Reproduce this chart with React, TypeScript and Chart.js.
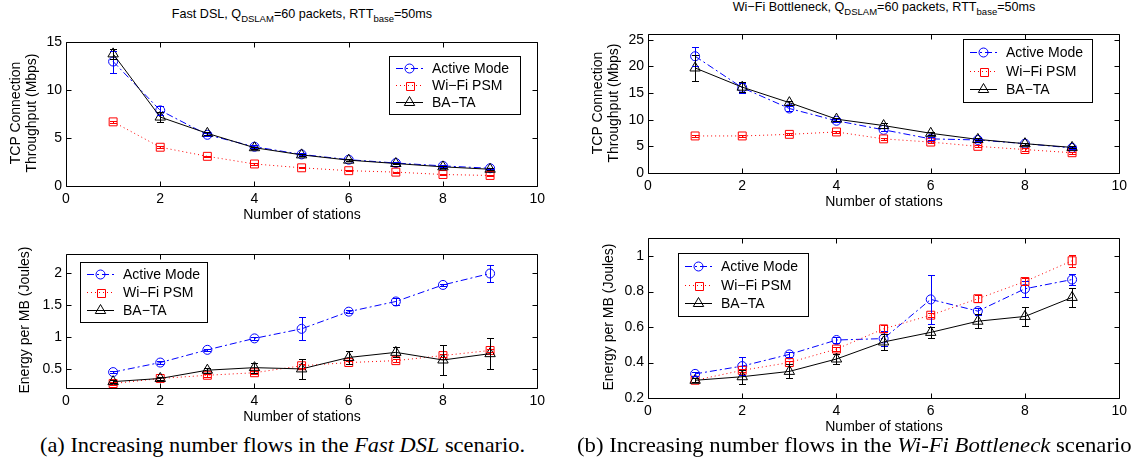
import React, { useEffect, useLayoutEffect, useRef, useState } from "react";
import { Chart, registerables } from "chart.js";

Chart.register(...registerables);

const SANS = '"Liberation Sans", Arial, Helvetica, sans-serif';
const SERIF = '"Liberation Serif", "Times New Roman", serif';

// ---------------- data ----------------
const stations = [1, 2, 3, 4, 5, 6, 7, 8, 9];
const seriesLabels = ["Active Mode", "Wi−Fi PSM", "BA−TA"];
const xTickValues = [0, 2, 4, 6, 8, 10];

// (a) Fast DSL – TCP connection throughput (Mbps)
const dslThrActive = [13.0, 7.9, 5.35, 4.1, 3.3, 2.75, 2.4, 2.1, 1.85];
const dslThrActiveErr = [1.15, 0.5, 0.15, 0.15, 0.1, 0.1, 0.1, 0.08, 0.08];
const dslThrPsm = [6.7, 4.05, 3.1, 2.3, 1.9, 1.6, 1.45, 1.2, 1.1];
const dslThrPsmErr = [0.1, 0.08, 0.08, 0.06, 0.05, 0.05, 0.05, 0.05, 0.05];
const dslThrBata = [13.8, 7.2, 5.5, 4.0, 3.25, 2.7, 2.35, 2.0, 1.75];
const dslThrBataErr = [0.5, 0.5, 0.15, 0.1, 0.1, 0.1, 0.08, 0.08, 0.08];

// (a) Fast DSL – energy per MB (Joules)
const dslEngActive = [0.45, 0.6, 0.8, 0.98, 1.13, 1.4, 1.56, 1.82, 2.0];
const dslEngActiveErr = [0.02, 0.02, 0.02, 0.02, 0.18, 0.02, 0.06, 0.02, 0.13];
const dslEngPsm = [0.27, 0.35, 0.4, 0.44, 0.55, 0.6, 0.63, 0.71, 0.79];
const dslEngPsmErr = [0.02, 0.02, 0.02, 0.02, 0.03, 0.02, 0.02, 0.03, 0.03];
const dslEngBata = [0.3, 0.35, 0.48, 0.52, 0.5, 0.68, 0.76, 0.64, 0.74];
const dslEngBataErr = [0.02, 0.03, 0.04, 0.08, 0.16, 0.1, 0.08, 0.23, 0.24];

// (b) Wi-Fi Bottleneck – TCP connection throughput (Mbps)
const wifiThrActive = [21.9, 16.0, 12.1, 9.8, 8.1, 6.4, 6.2, 5.5, 4.7];
const wifiThrActiveErr = [1.8, 0.9, 0.4, 0.3, 0.3, 0.3, 0.2, 0.2, 0.2];
const wifiThrPsm = [6.95, 6.95, 7.25, 7.7, 6.4, 5.8, 5.0, 4.4, 3.8];
const wifiThrPsmErr = [0.2, 0.2, 0.2, 0.2, 0.2, 0.2, 0.2, 0.2, 0.2];
const wifiThrBata = [19.7, 16.1, 13.2, 10.1, 8.9, 7.45, 6.3, 5.5, 4.8];
const wifiThrBataErr = [2.4, 0.9, 0.4, 0.3, 0.4, 0.3, 0.2, 0.2, 0.2];

// (b) Wi-Fi Bottleneck – energy per MB (Joules)
const wifiEngActive = [0.336, 0.38, 0.446, 0.527, 0.535, 0.756, 0.69, 0.816, 0.868];
const wifiEngActiveErr = [0.01, 0.05, 0.015, 0.015, 0.04, 0.14, 0.02, 0.045, 0.03];
const wifiEngPsm = [0.3, 0.356, 0.4, 0.476, 0.59, 0.667, 0.76, 0.857, 0.974];
const wifiEngPsmErr = [0.01, 0.01, 0.01, 0.01, 0.02, 0.01, 0.02, 0.02, 0.035];
const wifiEngBata = [0.3, 0.32, 0.35, 0.42, 0.516, 0.57, 0.633, 0.66, 0.767];
const wifiEngBataErr = [0.01, 0.04, 0.04, 0.03, 0.045, 0.03, 0.04, 0.055, 0.055];

// ---------------- styles ----------------
const seriesStyles = [
  { color: "#0000ff", dash: [7, 3, 2, 3], marker: "circle", radius: 4.5, order: 3 },
  { color: "#ff0000", dash: [1, 3], marker: "rect", radius: 5.6, order: 2 },
  { color: "#000000", dash: [], marker: "triangle", radius: 6, order: 1 },
];

const FS = 14;
const PADL = 60;
const PADR = 12;
const PADT = 10;
const PADB = 30;
const CAP = 3.5;

type Box = { l: number; t: number; r: number; b: number };
type Panel = {
  key: string;
  plot: Box;
  legend: Box;
  yMin: number;
  yMax: number;
  yStep: number;
  values: number[][];
  errors: number[][];
  yLabel: string[];
  yLabelX: number[];
};

const panels: Panel[] = [
  {
    key: "dslThr",
    plot: { l: 66, t: 40, r: 538, b: 186 },
    legend: { l: 389, t: 56, r: 520, b: 114 },
    yMin: 0, yMax: 15, yStep: 5,
    values: [dslThrActive, dslThrPsm, dslThrBata],
    errors: [dslThrActiveErr, dslThrPsmErr, dslThrBataErr],
    yLabel: ["TCP Connection", "Throughput (Mbps)"],
    yLabelX: [15, 31],
  },
  {
    key: "wifiThr",
    plot: { l: 648, t: 32, r: 1120, b: 173 },
    legend: { l: 963, t: 39, r: 1092, b: 102 },
    yMin: 0, yMax: 26, yStep: 5,
    values: [wifiThrActive, wifiThrPsm, wifiThrBata],
    errors: [wifiThrActiveErr, wifiThrPsmErr, wifiThrBataErr],
    yLabel: ["TCP Connection", "Throughput (Mbps)"],
    yLabelX: [597, 613],
  },
  {
    key: "dslEng",
    plot: { l: 66, t: 252, r: 538, b: 388 },
    legend: { l: 80, t: 262, r: 207, b: 322 },
    yMin: 0.2, yMax: 2.3, yStep: 0.5,
    values: [dslEngActive, dslEngPsm, dslEngBata],
    errors: [dslEngActiveErr, dslEngPsmErr, dslEngBataErr],
    yLabel: ["Energy per MB (Joules)"],
    yLabelX: [24],
  },
  {
    key: "wifiEng",
    plot: { l: 648, t: 236, r: 1120, b: 398 },
    legend: { l: 678, t: 253, r: 808, b: 316 },
    yMin: 0.2, yMax: 1.1, yStep: 0.2,
    values: [wifiEngActive, wifiEngPsm, wifiEngBata],
    errors: [wifiEngActiveErr, wifiEngPsmErr, wifiEngBataErr],
    yLabel: ["Energy per MB (Joules)"],
    yLabelX: [608],
  },
];

// ---------------- drawing helpers ----------------
function drawMarker(ctx: CanvasRenderingContext2D, kind: string, x: number, y: number, r: number, color: string) {
  ctx.save();
  ctx.setLineDash([]);
  ctx.strokeStyle = color;
  ctx.lineWidth = 1;
  ctx.beginPath();
  if (kind === "circle") {
    ctx.arc(x, y, r, 0, Math.PI * 2);
  } else if (kind === "rect") {
    const side = Math.round(2 * Math.SQRT1_2 * r);
    const x0 = Math.round(x - side / 2) + 0.5;
    const y0 = Math.round(y - side / 2) + 0.5;
    ctx.rect(x0, y0, side, side);
  } else {
    let a = 0;
    ctx.moveTo(x + Math.sin(a) * r, y - Math.cos(a) * r);
    a += (2 * Math.PI) / 3;
    ctx.lineTo(x + Math.sin(a) * r, y - Math.cos(a) * r);
    a += (2 * Math.PI) / 3;
    ctx.lineTo(x + Math.sin(a) * r, y - Math.cos(a) * r);
    ctx.closePath();
  }
  ctx.stroke();
  ctx.restore();
}

const fmtTick = (v: number) => String(Number(Number(v).toFixed(2)));

function PanelChart({ panel }: { panel: Panel }) {
  const ref = useRef<HTMLCanvasElement>(null);
  const W = panel.plot.r - panel.plot.l + PADL + PADR;
  const H = panel.plot.b - panel.plot.t + PADT + PADB;
  const offX = panel.plot.l - PADL;
  const offY = panel.plot.t - PADT;

  useEffect(() => {
    const canvas = ref.current!;
    const datasets = panel.values.map((vals, si) => {
      const st = seriesStyles[si];
      return {
        label: seriesLabels[si],
        data: stations.map((x, i) => ({ x, y: vals[i] })),
        errorBars: panel.errors[si],
        borderColor: st.color,
        backgroundColor: "rgba(0,0,0,0)",
        borderWidth: 1,
        borderDash: st.dash,
        pointStyle: st.marker,
        pointRadius: st.radius,
        pointBorderColor: st.color,
        pointBackgroundColor: "rgba(0,0,0,0)",
        pointBorderWidth: 1,
        fill: false,
        tension: 0,
        order: st.order,
      } as any;
    });

    const errPlugin = {
      id: "errBars",
      afterDatasetsDraw(chart: any) {
        const ctx = chart.ctx as CanvasRenderingContext2D;
        const xs = chart.scales.x;
        const ys = chart.scales.y;
        const area = chart.chartArea;
        ctx.save();
        ctx.beginPath();
        ctx.rect(area.left, area.top, area.right - area.left, area.bottom - area.top);
        ctx.clip();
        chart.data.datasets.forEach((ds: any) => {
          const errs: number[] = ds.errorBars;
          if (!errs) return;
          ctx.strokeStyle = ds.borderColor;
          ctx.lineWidth = 1;
          ctx.setLineDash([]);
          ds.data.forEach((p: any, i: number) => {
            const e = errs[i];
            if (!e) return;
            const px = Math.round(xs.getPixelForValue(p.x)) + 0.5;
            const yT = Math.round(ys.getPixelForValue(p.y + e)) + 0.5;
            const yB = Math.round(ys.getPixelForValue(p.y - e)) + 0.5;
            ctx.beginPath();
            ctx.moveTo(px, yT);
            ctx.lineTo(px, yB);
            ctx.moveTo(px - CAP, yT);
            ctx.lineTo(px + CAP, yT);
            ctx.moveTo(px - CAP, yB);
            ctx.lineTo(px + CAP, yB);
            ctx.stroke();
          });
        });
        ctx.restore();
      },
    };

    const framePlugin = {
      id: "matFrame",
      afterDraw(chart: any) {
        const ctx = chart.ctx as CanvasRenderingContext2D;
        const a = chart.chartArea;
        const xs = chart.scales.x;
        const ys = chart.scales.y;
        const L = Math.round(a.left) + 0.5;
        const R = Math.round(a.right) + 0.5;
        const T = Math.round(a.top) + 0.5;
        const B = Math.round(a.bottom) + 0.5;
        ctx.save();
        ctx.setLineDash([]);
        ctx.strokeStyle = "#000";
        ctx.lineWidth = 1;
        ctx.beginPath();
        ctx.rect(L, T, R - L, B - T);
        const TL = 5;
        xs.ticks.forEach((t: any) => {
          const px = Math.round(xs.getPixelForValue(t.value)) + 0.5;
          ctx.moveTo(px, B);
          ctx.lineTo(px, B - TL);
          ctx.moveTo(px, T);
          ctx.lineTo(px, T + TL);
        });
        ys.ticks.forEach((t: any) => {
          const py = Math.round(ys.getPixelForValue(t.value)) + 0.5;
          ctx.moveTo(L, py);
          ctx.lineTo(L + TL, py);
          ctx.moveTo(R, py);
          ctx.lineTo(R - TL, py);
        });
        ctx.stroke();

        // legend box
        const lg = panel.legend;
        const lx = lg.l - offX;
        const ly = lg.t - offY;
        const lw = lg.r - lg.l;
        const lh = lg.b - lg.t;
        ctx.fillStyle = "#fff";
        ctx.fillRect(lx, ly, lw, lh);
        ctx.strokeStyle = "#000";
        ctx.strokeRect(lx + 0.5, ly + 0.5, lw, lh);
        chart.data.datasets.forEach((ds: any, i: number) => {
          const st = seriesStyles[i];
          const cy = Math.round(ly + lh * (0.2 + 0.3 * i)) + 0.5;
          ctx.save();
          ctx.strokeStyle = st.color;
          ctx.setLineDash(st.dash);
          ctx.beginPath();
          ctx.moveTo(lx + 7, cy);
          ctx.lineTo(lx + 34, cy);
          ctx.stroke();
          ctx.restore();
          drawMarker(ctx, st.marker, lx + 20.5, cy, st.radius, st.color);
          ctx.fillStyle = "#000";
          ctx.font = `${FS}px ${SANS}`;
          ctx.textBaseline = "middle";
          ctx.textAlign = "left";
          ctx.fillText(ds.label, lx + 43, cy + 1);
        });
        ctx.restore();
      },
    };

    const chart = new Chart(canvas, {
      type: "line",
      data: { datasets },
      options: {
        responsive: false,
        maintainAspectRatio: false,
        animation: false,
        devicePixelRatio: 1,
        events: [],
        layout: { padding: { left: 0, right: PADR, top: PADT, bottom: 0 }, autoPadding: false },
        plugins: { legend: { display: false }, tooltip: { enabled: false }, title: { display: false } },
        scales: {
          x: {
            type: "linear",
            min: xTickValues[0],
            max: xTickValues[xTickValues.length - 1],
            afterBuildTicks: (s: any) => {
              s.ticks = xTickValues.map((v) => ({ value: v }));
            },
            afterFit: (s: any) => {
              s.height = PADB;
            },
            grid: { display: false, drawTicks: false },
            border: { display: false },
            ticks: {
              color: "#000",
              font: { family: SANS, size: FS },
              padding: 5,
              maxRotation: 0,
              autoSkip: false,
              callback: (v: any) => fmtTick(v),
            },
          },
          y: {
            type: "linear",
            min: panel.yMin,
            max: panel.yMax,
            afterFit: (s: any) => {
              s.width = PADL;
            },
            grid: { display: false, drawTicks: false },
            border: { display: false },
            ticks: {
              stepSize: panel.yStep,
              includeBounds: false,
              color: "#000",
              font: { family: SANS, size: FS },
              padding: 4,
              autoSkip: false,
              callback: (v: any) => fmtTick(v),
            },
          },
        },
      } as any,
      plugins: [errPlugin, framePlugin],
    });
    return () => chart.destroy();
  }, []);

  return (
    <canvas
      ref={ref}
      width={W}
      height={H}
      style={{ position: "absolute", left: offX, top: offY, width: W, height: H }}
    />
  );
}

const textBase: React.CSSProperties = {
  position: "absolute",
  whiteSpace: "nowrap",
  fontFamily: SANS,
  color: "#000",
  lineHeight: 1,
};

function Sub({ children }: { children: React.ReactNode }) {
  return <span style={{ fontSize: 9.5, position: "relative", top: 4 }}>{children}</span>;
}

function Title({ x, y, lead }: { x: number; y: number; lead: string }) {
  return (
    <div style={{ ...textBase, left: x, top: y, fontSize: 12.6, transform: "translate(-50%, -50%)" }}>
      {lead}, Q<Sub>DSLAM</Sub>=60 packets, RTT<Sub>base</Sub>=50ms
    </div>
  );
}

export default function App() {
  const capRef = useRef<HTMLDivElement>(null);
  const [capScale, setCapScale] = useState(1);
  useLayoutEffect(() => {
    const el = capRef.current;
    if (el) {
      const w = el.getBoundingClientRect().width;
      if (w > 0) setCapScale(485 / w);
    }
  }, []);

  return (
    <div style={{ position: "absolute", left: 0, top: 0, width: 1131, height: 464, background: "#fff", overflow: "hidden" }}>
      {panels.map((p) => (
        <PanelChart key={p.key} panel={p} />
      ))}

      <Title x={302} y={14} lead="Fast DSL" />
      <Title x={884} y={7} lead="Wi−Fi Bottleneck" />

      {panels.map((p) =>
        p.yLabel.map((txt, i) => (
          <div
            key={p.key + i}
            style={{
              ...textBase,
              fontSize: FS,
              left: p.yLabelX[i],
              top: (p.plot.t + p.plot.b) / 2,
              transform: "translate(-50%, -50%) rotate(-90deg)",
            }}
          >
            {txt}
          </div>
        ))
      )}

      {panels.map((p) => (
        <div
          key={p.key + "x"}
          style={{
            ...textBase,
            fontSize: FS,
            left: (p.plot.l + p.plot.r) / 2,
            top: p.plot.b + 28,
            transform: "translate(-50%, -50%)",
          }}
        >
          Number of stations
        </div>
      ))}

      <div
        ref={capRef}
        style={{
          ...textBase,
          fontFamily: SERIF,
          fontSize: 21,
          left: 40,
          top: 435,
          transform: `scaleX(${capScale})`,
          transformOrigin: "left top",
        }}
      >
        (a) Increasing number flows in the <i>Fast DSL</i> scenario.
      </div>
      <div
        style={{
          ...textBase,
          fontFamily: SERIF,
          fontSize: 21,
          left: 577,
          top: 435,
          transform: `scaleX(${capScale * 1.015})`,
          transformOrigin: "left top",
        }}
      >
        (b) Increasing number flows in the <i>Wi-Fi Bottleneck</i> scenario.
      </div>
    </div>
  );
}
